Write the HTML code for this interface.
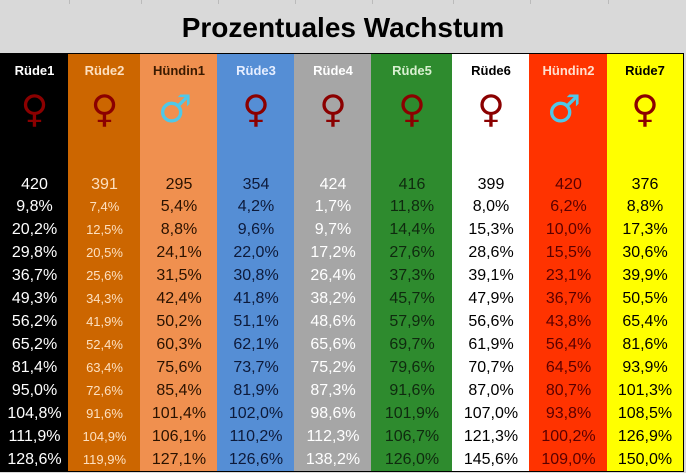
<!DOCTYPE html>
<html><head><meta charset="utf-8">
<style>
html,body{margin:0;padding:0;}
body{width:686px;height:473px;overflow:hidden;background:#d9d9d9;position:relative;font-family:"Liberation Sans",sans-serif;}
.c{position:absolute;box-sizing:border-box;border-right:1px solid #000;border-bottom:1px solid #000;display:flex;align-items:center;justify-content:center;white-space:nowrap;}
#title{position:absolute;left:0;top:12px;width:686px;text-align:center;font-size:28px;font-weight:bold;color:#000;}
.gl{position:absolute;top:0;width:1px;height:4px;background:#bbb;}
</style></head>
<body>
<div class="gl" style="left:69px"></div>
<div class="gl" style="left:141px"></div>
<div class="gl" style="left:218px"></div>
<div class="gl" style="left:295px"></div>
<div class="gl" style="left:372px"></div>
<div class="gl" style="left:453px"></div>
<div class="gl" style="left:530px"></div>
<div class="gl" style="left:608px"></div>
<div id="title">Prozentuales Wachstum</div>
<div id="tbl"></div>
<script>
const names = ["Rüde1","Rüde2","Hündin1","Rüde3","Rüde4","Rüde5","Rüde6","Hündin2","Rüde7"];
const symbols = ["♀","♀","♂","♀","♀","♀","♀","♂","♀"];
const baseValues = ["420","391","295","354","424","416","399","420","376"];
const col1 = ["9,8%","20,2%","29,8%","36,7%","49,3%","56,2%","65,2%","81,4%","95,0%","104,8%","111,9%","128,6%"];
const col2 = ["7,4%","12,5%","20,5%","25,6%","34,3%","41,9%","52,4%","63,4%","72,6%","91,6%","104,9%","119,9%"];
const col3 = ["5,4%","8,8%","24,1%","31,5%","42,4%","50,2%","60,3%","75,6%","85,4%","101,4%","106,1%","127,1%"];
const col4 = ["4,2%","9,6%","22,0%","30,8%","41,8%","51,1%","62,1%","73,7%","81,9%","102,0%","110,2%","126,6%"];
const col5 = ["1,7%","9,7%","17,2%","26,4%","38,2%","48,6%","65,6%","75,2%","87,3%","98,6%","112,3%","138,2%"];
const col6 = ["11,8%","14,4%","27,6%","37,3%","45,7%","57,9%","69,7%","79,6%","91,6%","101,9%","106,7%","126,0%"];
const col7 = ["8,0%","15,3%","28,6%","39,1%","47,9%","56,6%","61,9%","70,7%","87,0%","107,0%","121,3%","145,6%"];
const col8 = ["6,2%","10,0%","15,5%","23,1%","36,7%","43,8%","56,4%","64,5%","80,7%","93,8%","100,2%","109,0%"];
const col9 = ["8,8%","17,3%","30,6%","39,9%","50,5%","65,4%","81,6%","93,9%","101,3%","108,5%","126,9%","150,0%"];
const cols = [col1,col2,col3,col4,col5,col6,col7,col8,col9];

const xs=[0,69,141,218,295,372,453,530,608,684];
const bg=["#000","#cc6600","#f0904f","#558ed5","#a6a6a6","#2e8b2e","#fff","#ff3300","#ffff00"];
const hc=["#fff","#fde0c0","#3a1a00","#e6eeff","#fff","#d8f0d0","#000","#ffe0d0","#000"];
const dc=["#fff","#fde0c0","#2a1200","#0d1a3a","#fff","#0f2a0f","#000","#5a0000","#000"];
const sc=["#8b0000","#8b0000","#4fc8e8","#8b0000","#8b0000","#8b0000","#8b0000","#4fc8e8","#8b0000"];
const tbl=document.getElementById('tbl');
function cell(x,y,w,h,txt,st,name){
  const d=document.createElement('div');
  d.className='c';
  d.style.cssText=`left:${x}px;top:${y}px;width:${w}px;height:${h}px;`+st;
  d.textContent=txt;
  
  
  tbl.appendChild(d);
}
const rowTop=195,rowH=23;
for(let i=0;i<9;i++){
  const x=xs[i],w=xs[i+1]-xs[i]+(i==8?0:1);
  const bd=i==0?'border-color:#000;':'';
  const ww=i==0?w:w;
  const base=`background:${bg[i]};${bd}`;
  const left=i==0?0:-1;
  cell(x+left,53,ww-left,35,names[i],base+`color:${hc[i]};font-weight:bold;font-size:13px;border-top:1px solid #000;`,'column-header');
  cell(x+left,87,ww-left,49,symbols[i],base+`color:${sc[i]};font-family:'DejaVu Sans',sans-serif;font-size:38px;font-weight:bold;align-items:flex-start;justify-content:${i==2||i==7?'flex-start':'center'};padding-left:${i==2||i==7?'18px':'0'};line-height:44px;`,'sex-symbol');
  cell(x+left,135,ww-left,37,'',base,'empty-cell');
  cell(x+left,171,ww-left,25,baseValues[i],base+`color:${dc[i]};font-size:16px;padding-top:3px;`,'base-value');
  for(let r=0;r<cols[i].length;r++){
    cell(x+left,rowTop+r*rowH,ww-left,rowH+1,cols[i][r],base+`color:${dc[i]};font-size:${i==1?13:16}px;`,'growth-value');
  }
}
</script>
</body></html>
